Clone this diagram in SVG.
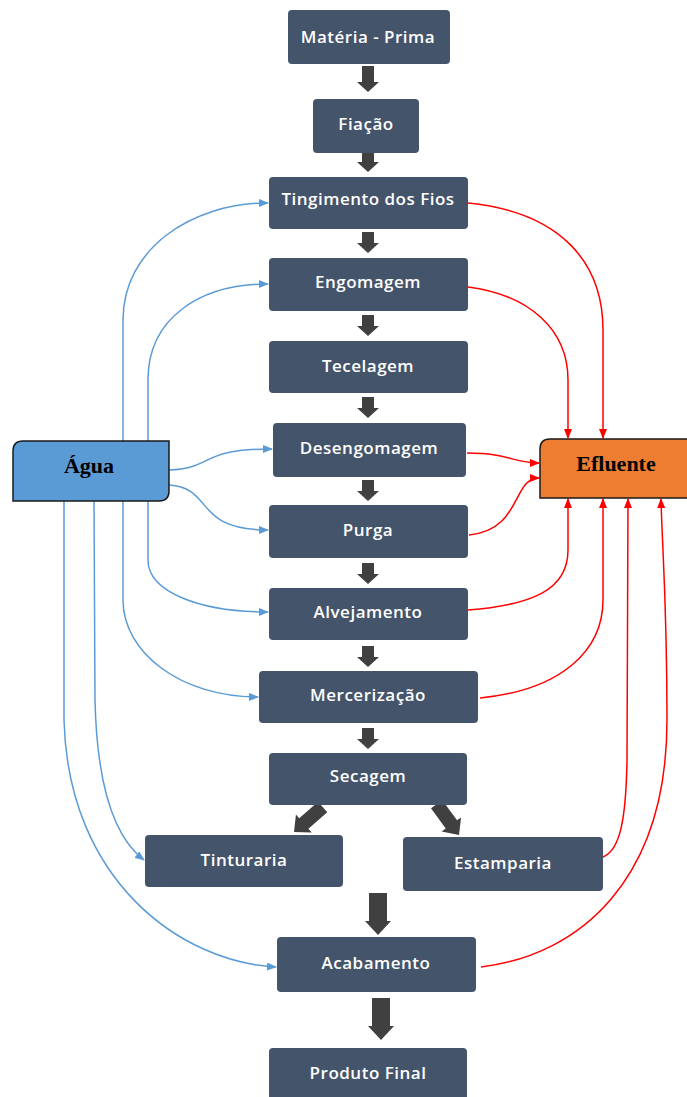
<svg xmlns="http://www.w3.org/2000/svg" width="687" height="1097" viewBox="0 0 687 1097">
  <style>
    .node rect { fill: #44546a; }
    .node text { fill: #ffffff; font-family: "Open Sans", "DejaVu Sans", sans-serif; font-size: 17px; font-weight: 600; letter-spacing: 0.5px; text-anchor: middle; }
    .term text { fill: #000000; font-family: "Liberation Serif", serif; font-weight: bold; font-size: 22px; text-anchor: middle; }
    .water { fill: none; stroke: #5b9bd5; stroke-width: 1.5; marker-end: url(#blueHead); }
    .waste { fill: none; stroke: #ff0000; stroke-width: 1.5; marker-end: url(#redHead); }
    .flow { fill: #404040; }
  </style>
  <defs>
    <marker id="blueHead" markerWidth="10" markerHeight="8" refX="9" refY="4" orient="auto" markerUnits="userSpaceOnUse">
      <path d="M0,0 L10,4 L0,8 Z" fill="#5b9bd5"/>
    </marker>
    <marker id="redHead" markerWidth="10" markerHeight="8" refX="9" refY="4" orient="auto" markerUnits="userSpaceOnUse">
      <path d="M0,0 L10,4 L0,8 Z" fill="#ff0000"/>
    </marker>
    <!-- block arrow pointing down, tip at (0,0) -->
    <path id="blockSmall" d="M-6,-26 L6,-26 L6,-10 L11,-10 L0,0 L-11,-10 L-6,-10 Z"/>
    <path id="blockShort" d="M-6,-21 L6,-21 L6,-10 L11,-10 L0,0 L-11,-10 L-6,-10 Z"/>
    <path id="blockDiag" d="M-7,-38 L7,-38 L7,-13 L12,-13 L0,0 L-12,-13 L-7,-13 Z"/>
    <path id="blockBig" d="M-9,-42 L9,-42 L9,-14 L13,-14 L0,0 L-13,-14 L-9,-14 Z"/>
  </defs>

  <!-- process flow (block arrows) -->
  <g id="flow-arrows" class="flow">
    <use href="#blockSmall" transform="translate(368,92)"/>
    <use href="#blockShort" transform="translate(368,172)"/>
    <use href="#blockShort" transform="translate(368,253)"/>
    <use href="#blockShort" transform="translate(368,336)"/>
    <use href="#blockShort" transform="translate(368,418)"/>
    <use href="#blockShort" transform="translate(368,501)"/>
    <use href="#blockShort" transform="translate(368,584)"/>
    <use href="#blockShort" transform="translate(368,667)"/>
    <use href="#blockShort" transform="translate(368,749)"/>
    <use href="#blockDiag" transform="translate(294,832) rotate(49)"/>
    <use href="#blockDiag" transform="translate(459,835) rotate(-36)"/>
    <use href="#blockBig" transform="translate(378,935)"/>
    <use href="#blockBig" transform="translate(381,1040)"/>
  </g>

  <!-- water supply and effluent lines -->
  <g id="connectors">
    <path class="water" d="M123,441 L123,320 C123,250 190,203 268,203"/>
    <path class="water" d="M148,441 L148,380 C148,318 200,284 268,284"/>
    <path class="water" d="M169,470 C215,468 198,449 272,449"/>
    <path class="water" d="M169,485 C215,488 192,530 268,530"/>
    <path class="water" d="M148,501 L148,560 C148,592 200,612 268,612"/>
    <path class="water" d="M123,501 L123,600 C123,652 180,697 258,697"/>
    <path class="water" d="M94,501 L95,700 C97,790 115,838 144,860"/>
    <path class="water" d="M64,501 L64,720 C68,880 180,962 276,967"/>

    <path class="waste" d="M468,203 C560,212 603,262 603,330 L603,438"/>
    <path class="waste" d="M468,287 C530,295 568,330 568,380 L568,438"/>
    <path class="waste" d="M467,453 C510,453 512,463 539,463"/>
    <path class="waste" d="M469,535 C522,530 512,478 539,478"/>
    <path class="waste" d="M468,610 C532,605 568,590 568,550 L568,499"/>
    <path class="waste" d="M480,698 C562,690 603,650 603,600 L603,499"/>
    <path class="waste" d="M603,857 C620,850 626,820 627,760 L628,499"/>
    <path class="waste" d="M481,967 C580,955 667,880 667,720 C667,600 662,545 661,499"/>
  </g>

  <!-- sources and sinks -->
  <g id="agua" class="term">
    <path d="M13,451 Q13,441 23,441 L169,441 L169,491 Q169,501 159,501 L13,501 Z" fill="#5b9bd5" stroke="#1a1a1a" stroke-width="1.5"/>
    <text x="89" y="473">Água</text>
  </g>
  <g id="efluente" class="term">
    <path d="M540,449 Q540,439 550,439 L692,439 L692,498 L540,498 Z" fill="#ed7d31" stroke="#1a1a1a" stroke-width="1.5"/>
    <text x="616" y="471">Efluente</text>
  </g>

  <!-- process steps -->
  <g id="materia-prima" class="node"><rect x="288" y="10" width="162" height="54" rx="4"/><text x="368" y="43">Matéria - Prima</text></g>
  <g id="fiacao" class="node"><rect x="313" y="99" width="106" height="54" rx="4"/><text x="366" y="130">Fiação</text></g>
  <g id="tingimento" class="node"><rect x="269" y="177" width="199" height="52" rx="4"/><text x="368" y="205">Tingimento dos Fios</text></g>
  <g id="engomagem" class="node"><rect x="269" y="258" width="199" height="53" rx="4"/><text x="368" y="288">Engomagem</text></g>
  <g id="tecelagem" class="node"><rect x="269" y="341" width="199" height="52" rx="4"/><text x="368" y="372">Tecelagem</text></g>
  <g id="desengomagem" class="node"><rect x="273" y="423" width="193" height="54" rx="4"/><text x="369" y="454">Desengomagem</text></g>
  <g id="purga" class="node"><rect x="269" y="505" width="199" height="53" rx="4"/><text x="368" y="536">Purga</text></g>
  <g id="alvejamento" class="node"><rect x="269" y="588" width="199" height="52" rx="4"/><text x="368" y="618">Alvejamento</text></g>
  <g id="mercerizacao" class="node"><rect x="259" y="671" width="219" height="52" rx="4"/><text x="368" y="701">Mercerização</text></g>
  <g id="secagem" class="node"><rect x="269" y="753" width="198" height="52" rx="4"/><text x="368" y="782">Secagem</text></g>
  <g id="tinturaria" class="node"><rect x="145" y="835" width="198" height="52" rx="4"/><text x="244" y="866">Tinturaria</text></g>
  <g id="estamparia" class="node"><rect x="403" y="837" width="200" height="54" rx="4"/><text x="503" y="869">Estamparia</text></g>
  <g id="acabamento" class="node"><rect x="277" y="937" width="199" height="55" rx="4"/><text x="376" y="969">Acabamento</text></g>
  <g id="produto-final" class="node"><rect x="269" y="1048" width="198" height="56" rx="4"/><text x="368" y="1079">Produto Final</text></g>
</svg>
